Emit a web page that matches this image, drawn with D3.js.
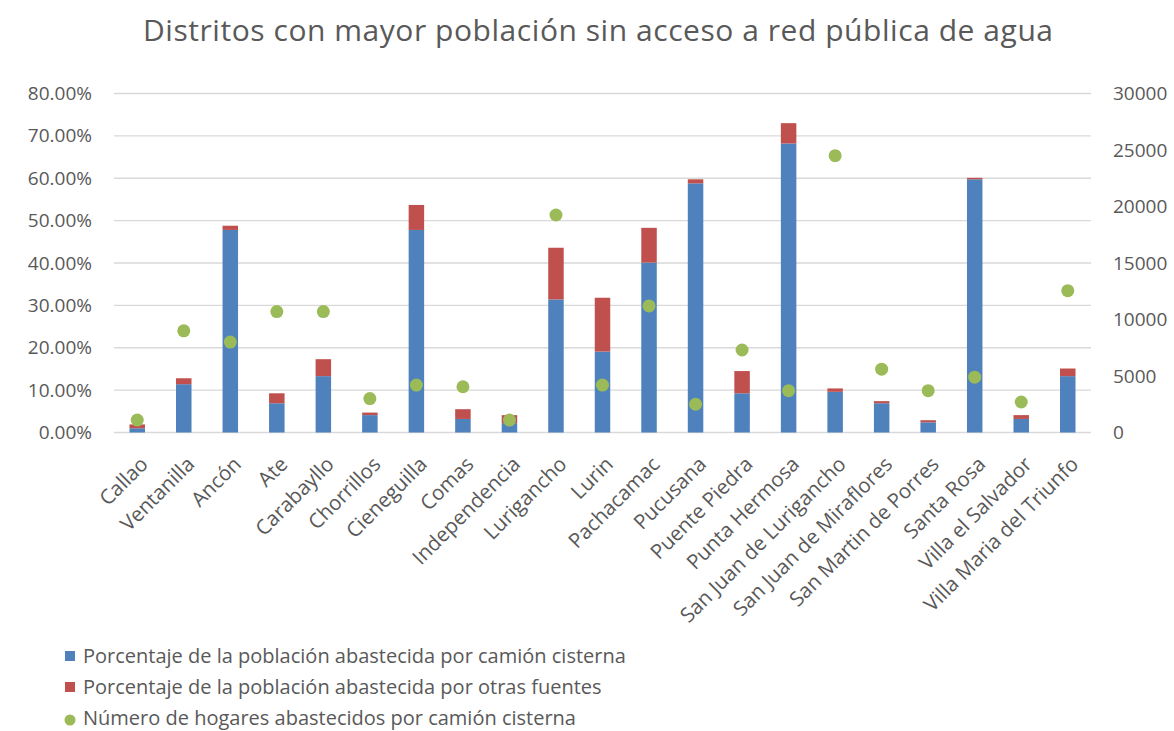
<!DOCTYPE html>
<html>
<head>
<meta charset="utf-8">
<script src="https://cdn.jsdelivr.net/npm/d3@7"></script>
<style>
  body { margin: 0; background: #fff; }
  text { font-family: "Open Sans", "Noto Sans", sans-serif; fill: #595959; }
</style>
</head>
<body>
<div id="chart"></div>
<script>
var distritos = ["Callao", "Ventanilla", "Ancón", "Ate", "Carabayllo", "Chorrillos", "Cieneguilla", "Comas",
  "Independencia", "Lurigancho", "Lurin", "Pachacamac", "Pucusana", "Puente Piedra", "Punta Hermosa",
  "San Juan de Lurigancho", "San Juan de Miraflores", "San Martin de Porres", "Santa Rosa",
  "Villa el Salvador", "Villa Maria del Triunfo"];

// % poblacion abastecida por camion cisterna
var pctCisterna = [1.0, 11.4, 47.8, 6.9, 13.3, 4.1, 47.8, 3.2, 2.2, 31.4, 19.1, 40.1, 58.8, 9.25, 68.2,
  9.6, 6.9, 2.4, 59.75, 3.2, 13.3];
// % poblacion abastecida por otras fuentes
var pctOtras = [0.9, 1.4, 1.0, 2.35, 4.0, 0.6, 5.9, 2.3, 1.9, 12.2, 12.7, 8.2, 0.95, 5.25, 4.8,
  0.8, 0.5, 0.5, 0.35, 0.9, 1.8];
// numero de hogares abastecidos por camion cisterna
var hogares = [1100, 9000, 8000, 10700, 10700, 3000, 4200, 4050, 1100, 19250, 4200, 11200, 2500, 7300, 3700,
  24500, 5600, 3700, 4900, 2700, 12550];

var leftTicks = [0, 10, 20, 30, 40, 50, 60, 70, 80];
var rightTicks = [0, 5000, 10000, 15000, 20000, 25000, 30000];
var leyenda = ["Porcentaje de la población abastecida por camión cisterna",
  "Porcentaje de la población abastecida por otras fuentes",
  "Número de hogares abastecidos por camión cisterna"];

var colores = { cisterna: "#4F81BD", otras: "#C0504D", hogares: "#9BBB59" };

var W = 1174, H = 731;
var margin = { top: 93.5, right: 83, bottom: 298.5, left: 114 },
    width = W - margin.left - margin.right,
    height = H - margin.top - margin.bottom;

var root = d3.select("#chart").append("svg")
    .attr("width", W)
    .attr("height", H);

root.append("text")
    .attr("x", 598)
    .attr("y", 41)
    .attr("text-anchor", "middle")
    .style("font-size", "30px")
    .attr("textLength", 910)
    .attr("lengthAdjust", "spacing")
    .text("Distritos con mayor población sin acceso a red pública de agua");

var svg = root.append("g")
    .attr("transform", "translate(" + margin.left + "," + margin.top + ")");

var x = d3.scaleBand()
    .domain(distritos)
    .range([0, width])
    .paddingInner(0.667)
    .paddingOuter(0.333);

var y = d3.scaleLinear().domain([0, 80]).range([height, 0]);
var y2 = d3.scaleLinear().domain([0, 30000]).range([height, 0]);

// gridlines
svg.selectAll(".grid")
  .data(leftTicks)
  .join("line")
    .attr("x1", 0)
    .attr("x2", width)
    .attr("y1", d => y(d))
    .attr("y2", d => y(d))
    .attr("stroke", "#d9d9d9")
    .attr("stroke-width", 1.3);

var yAxis = svg.append("g")
    .call(d3.axisLeft(y).tickValues(leftTicks).tickSize(0).tickPadding(22)
      .tickFormat(d => d3.format(".2f")(d) + "%"));
yAxis.select(".domain").remove();
yAxis.selectAll("text").style("font-size", "19px").style("font-family", null);

var yAxis2 = svg.append("g")
    .attr("transform", "translate(" + width + ",0)")
    .call(d3.axisRight(y2).tickValues(rightTicks).tickSize(0).tickPadding(22)
      .tickFormat(d3.format("d")));
yAxis2.select(".domain").remove();
yAxis2.selectAll("text").style("font-size", "19px").style("font-family", null);

var rows = distritos.map((d, i) => ({ name: d, a: pctCisterna[i], b: pctOtras[i], h: hogares[i] }));

svg.selectAll(".barA")
  .data(rows)
  .join("rect")
    .attr("x", d => x(d.name))
    .attr("width", x.bandwidth())
    .attr("y", d => y(d.a))
    .attr("height", d => y(0) - y(d.a))
    .attr("fill", colores.cisterna);

svg.selectAll(".barB")
  .data(rows)
  .join("rect")
    .attr("x", d => x(d.name))
    .attr("width", x.bandwidth())
    .attr("y", d => y(d.a + d.b))
    .attr("height", d => y(d.a) - y(d.a + d.b))
    .attr("fill", colores.otras);

svg.selectAll(".dot")
  .data(rows)
  .join("circle")
    .attr("cx", d => x(d.name) + x.bandwidth() / 2)
    .attr("cy", d => y2(d.h))
    .attr("r", 6.5)
    .attr("fill", colores.hogares);

// category labels
svg.selectAll(".cat")
  .data(distritos)
  .join("text")
    .attr("text-anchor", "end")
    .attr("transform", d => "translate(" + (x(d) + x.bandwidth() / 2 + 12) + "," + (height + 33) + ") rotate(-45)")
    .style("font-size", "20.5px")
    .text(d => d);

// legend
var leg = root.append("g").attr("transform", "translate(70,0)");
leyenda.forEach(function(t, i) {
  var yy = 656 + i * 31;
  if (i < 2) {
    leg.append("rect").attr("x", -5).attr("y", yy - 5).attr("width", 10).attr("height", 10)
      .attr("fill", i == 0 ? colores.cisterna : colores.otras);
  } else {
    leg.append("circle").attr("cx", 0).attr("cy", yy + 2).attr("r", 5.5).attr("fill", colores.hogares);
  }
  leg.append("text")
    .attr("x", 13)
    .attr("y", yy + 7)
    .style("font-size", "20px")
    .text(t);
});
</script>
</body>
</html>
